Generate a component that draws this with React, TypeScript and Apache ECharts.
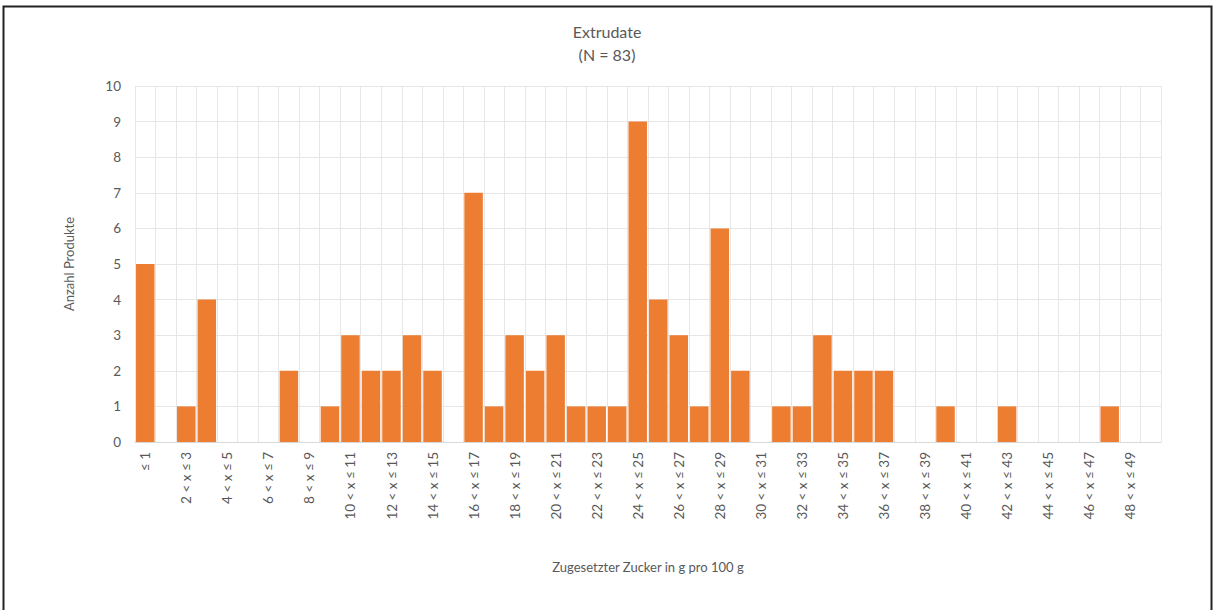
import React, { useEffect, useRef } from "react";
import * as echarts from "echarts";

const categories: string[] = [
  "≤ 1", "1 < x ≤ 2", "2 < x ≤ 3", "3 < x ≤ 4", "4 < x ≤ 5", "5 < x ≤ 6", "6 < x ≤ 7", "7 < x ≤ 8", "8 < x ≤ 9", "9 < x ≤ 10",
  "10 < x ≤ 11", "11 < x ≤ 12", "12 < x ≤ 13", "13 < x ≤ 14", "14 < x ≤ 15", "15 < x ≤ 16", "16 < x ≤ 17", "17 < x ≤ 18", "18 < x ≤ 19", "19 < x ≤ 20",
  "20 < x ≤ 21", "21 < x ≤ 22", "22 < x ≤ 23", "23 < x ≤ 24", "24 < x ≤ 25", "25 < x ≤ 26", "26 < x ≤ 27", "27 < x ≤ 28", "28 < x ≤ 29", "29 < x ≤ 30",
  "30 < x ≤ 31", "31 < x ≤ 32", "32 < x ≤ 33", "33 < x ≤ 34", "34 < x ≤ 35", "35 < x ≤ 36", "36 < x ≤ 37", "37 < x ≤ 38", "38 < x ≤ 39", "39 < x ≤ 40",
  "40 < x ≤ 41", "41 < x ≤ 42", "42 < x ≤ 43", "43 < x ≤ 44", "44 < x ≤ 45", "45 < x ≤ 46", "46 < x ≤ 47", "47 < x ≤ 48", "48 < x ≤ 49", "49 < x ≤ 50",
];

const counts: number[] = [
  5, 0, 1, 4, 0, 0, 0, 2, 0, 1,
  3, 2, 2, 3, 2, 0, 7, 1, 3, 2,
  3, 1, 1, 1, 9, 4, 3, 1, 6, 2,
  0, 1, 1, 3, 2, 2, 2, 0, 0, 1,
  0, 0, 1, 0, 0, 0, 0, 1, 0, 0,
];

const titleLines: string[] = ["Extrudate", "(N = 83)"];
const xAxisTitle = "Zugesetzter Zucker in g pro 100 g";
const yAxisTitle = "Anzahl Produkte";

const FONT = "Lato, 'Open Sans', sans-serif";
const TEXT = "#595959";

export default function App() {
  const ref = useRef<HTMLDivElement>(null);
  useEffect(() => {
    document.body.style.margin = "0";
    const chart = echarts.init(ref.current!, null, { renderer: "svg" });
    chart.setOption({
      animation: false,
      backgroundColor: "#ffffff",
      title: {
        text: titleLines.join("\n"),
        left: "center",
        top: 15,
        textStyle: { color: TEXT, fontSize: 16, fontWeight: "normal", fontFamily: FONT, lineHeight: 23 },
      },
      graphic: [
        {
          type: "rect",
          shape: { x: 3.5, y: 6.5, width: 1208, height: 610 },
          style: { fill: "none", stroke: "#222", lineWidth: 2 },
          silent: true,
        },
      ],
      grid: { left: 135, right: 53, top: 86, bottom: 168, containLabel: false },
      xAxis: {
        type: "category",
        data: categories,
        name: xAxisTitle,
        nameLocation: "middle",
        nameGap: 118,
        nameTextStyle: { color: TEXT, fontSize: 13, fontFamily: FONT },
        axisLine: { show: true, lineStyle: { color: "#d9d9d9", width: 1 } },
        axisTick: { show: false },
        axisLabel: { interval: 1, rotate: 90, color: TEXT, fontSize: 13.5, fontFamily: FONT, margin: 10 },
        splitLine: { show: true, interval: 0, lineStyle: { color: "#e6e6e6", width: 1 } },
      },
      yAxis: {
        type: "value",
        min: 0,
        max: 10,
        interval: 1,
        name: yAxisTitle,
        nameLocation: "middle",
        nameGap: 60,
        nameTextStyle: { color: TEXT, fontSize: 13, fontFamily: FONT },
        axisLine: { show: false },
        axisTick: { show: false },
        axisLabel: { color: TEXT, fontSize: 13.5, fontFamily: FONT, margin: 14 },
        splitLine: { show: true, lineStyle: { color: "#e6e6e6", width: 1 } },
      },
      series: [
        {
          type: "bar",
          data: counts,
          barCategoryGap: "10%",
          itemStyle: { color: "#ED7D31" },
        },
      ],
    });
    return () => chart.dispose();
  }, []);
  return <div ref={ref} style={{ width: 1214, height: 610 }} />;
}
